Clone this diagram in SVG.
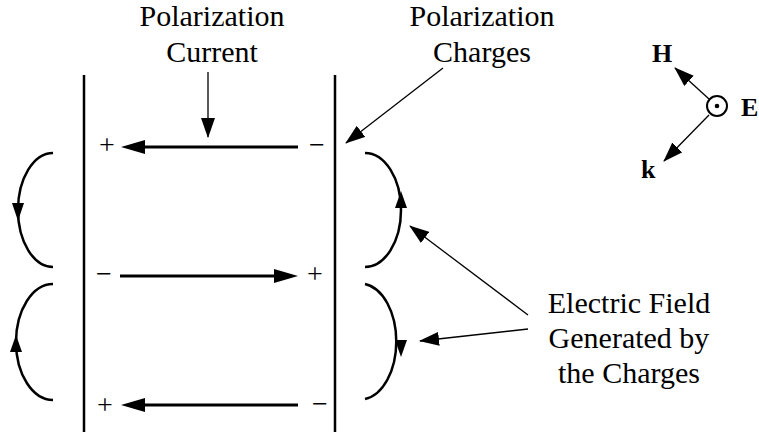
<svg xmlns="http://www.w3.org/2000/svg" width="759" height="437" viewBox="0 0 759 437">
<style>
text{font-family:'Liberation Serif','DejaVu Serif',serif;fill:#000000}
.t{font-size:30px;text-anchor:middle}
.s{font-size:28px;text-anchor:middle}
.b{font-size:26px;font-weight:bold}
.plate{stroke:#000;stroke-width:2.5;fill:none}
.cur{stroke:#000;stroke-width:3.2;fill:none}
.thin{stroke:#000;stroke-width:1.3;fill:none}
.arc{stroke:#000;stroke-width:2.5;fill:none}
.head{fill:#000}
</style>
<defs>
<marker id="ah" markerUnits="userSpaceOnUse" markerWidth="22" markerHeight="14" refX="19" refY="7" orient="auto">
<path d="M0,0 L20,7 L0,14 z" fill="#000"/>
</marker>
<marker id="ahb" markerUnits="userSpaceOnUse" markerWidth="24" markerHeight="14" refX="14" refY="7" orient="auto">
<path d="M0,0 L24,7 L0,14 z" fill="#000"/>
</marker>
</defs>

<g id="plate-left"><line class="plate" x1="84" y1="75" x2="84" y2="432"/></g>
<g id="plate-right"><line class="plate" x1="335" y1="75" x2="335" y2="432"/></g>

<g id="current-top">
<line class="cur" x1="298" y1="147" x2="131" y2="147" marker-end="url(#ahb)"/>
<text class="s" x="107" y="154">+</text>
<text class="s" x="317" y="154">−</text>
</g>
<g id="current-mid">
<line class="cur" x1="120" y1="276" x2="288" y2="276" marker-end="url(#ahb)"/>
<text class="s" x="104" y="283">−</text>
<text class="s" x="315" y="283">+</text>
</g>
<g id="current-bot">
<line class="cur" x1="298" y1="405" x2="131" y2="405" marker-end="url(#ahb)"/>
<text class="s" x="105" y="414">+</text>
<text class="s" x="320" y="413">−</text>
</g>

<g id="field-left-top">
<path class="arc" d="M53,153 A35,57 0 0 0 53,267"/>
<polygon class="head" points="12,203 24,203 18,221"/>
</g>
<g id="field-left-bot">
<path class="arc" d="M53,284 A37,58 0 0 0 53,400"/>
<polygon class="head" points="10,352 22,352 16,335"/>
</g>
<g id="field-right-top">
<path class="arc" d="M365,153 A36,57 0 0 1 365,267"/>
<polygon class="head" points="395,208 407,208 401,191"/>
</g>
<g id="field-right-bot">
<path class="arc" d="M365,284 A36,58 0 0 1 365,399"/>
<polygon class="head" points="395,340 407,340 401,357"/>
</g>

<g id="label-current">
<text class="t" x="212" y="26">Polarization</text>
<text class="t" x="212" y="62">Current</text>
</g>
<g id="label-charges">
<text class="t" x="482" y="26">Polarization</text>
<text class="t" x="482" y="62">Charges</text>
</g>
<g id="label-field">
<text class="t" x="629" y="313">Electric Field</text>
<text class="t" x="629" y="348">Generated by</text>
<text class="t" x="629" y="383">the Charges</text>
</g>

<g id="axes">
<circle cx="717" cy="106" r="10" fill="none" stroke="#000" stroke-width="2"/>
<circle cx="717" cy="106" r="2.3" fill="#000"/>
<line class="thin" x1="709" y1="99" x2="675" y2="68" stroke-width="1.6" marker-end="url(#ah)"/>
<line class="thin" x1="709" y1="115" x2="664" y2="161" stroke-width="1.6" marker-end="url(#ah)"/>
<text class="b" x="652" y="62">H</text>
<text class="b" x="741" y="116">E</text>
<text class="b" x="641" y="178">k</text>
</g>

<g id="connectors">
<line class="thin" x1="208" y1="72" x2="208" y2="137" marker-end="url(#ah)"/>
<line class="thin" x1="443" y1="68" x2="346" y2="143" marker-end="url(#ah)"/>
<line class="thin" x1="528" y1="315" x2="410" y2="226" marker-end="url(#ah)"/>
<line class="thin" x1="528" y1="329" x2="420" y2="341" marker-end="url(#ah)"/>
</g>
</svg>
